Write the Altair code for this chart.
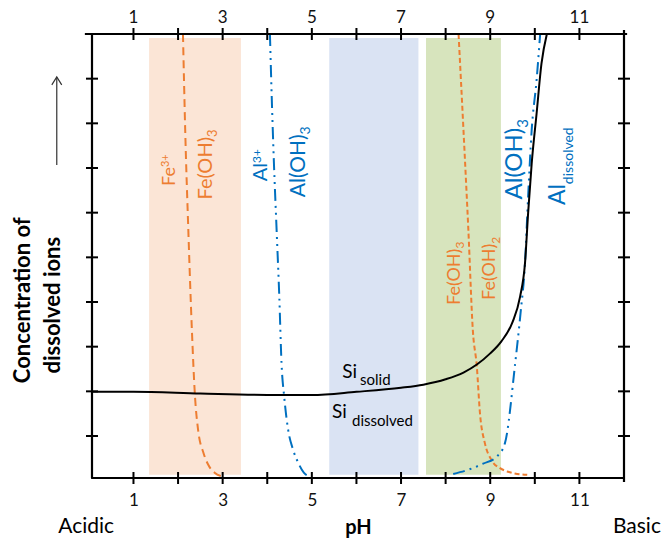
import altair as alt
import pandas as pd

# ---------------- data ----------------
x_tick_values = [1, 2, 3, 4, 5, 6, 7, 8, 9, 10, 11]
x_label_values = [1, 3, 5, 7, 9, 11]
y_tick_values = [1, 2, 3, 4, 5, 6, 7, 8, 9]

band_names = ["Fe", "Si", "Al"]
band_start = [1.35, 5.39, 7.56]
band_end = [3.41, 7.39, 9.24]
band_bottom = [0.13, 0.13, 0.13]
band_top = [9.91, 9.91, 9.91]
band_colors = ["#FBE5D6", "#DAE3F3", "#D7E4BD"]

fe_acid_x = [2.11, 2.16, 2.23, 2.31, 2.38, 2.45, 2.57, 2.68, 2.82, 2.97]
fe_acid_y = [10.0, 7.85, 5.61, 3.37, 1.88, 1.13, 0.62, 0.35, 0.18, 0.10]

al_acid_x = [4.06, 4.10, 4.15, 4.21, 4.27, 4.32, 4.38, 4.47, 4.58, 4.70, 4.82, 4.95]
al_acid_y = [10.0, 8.60, 7.10, 5.61, 4.12, 2.63, 1.88, 1.13, 0.69, 0.39, 0.18, 0.10]

fe_base_x = [8.29, 8.40, 8.51, 8.61, 8.70, 8.77, 8.88, 9.03, 9.22, 9.40, 9.55, 9.83]
fe_base_y = [10.0, 7.85, 5.61, 3.37, 2.55, 1.51, 0.84, 0.46, 0.28, 0.20, 0.16, 0.13]

al_base_x = [8.17, 8.55, 8.84, 9.15, 9.33, 9.56, 9.68, 9.78, 9.85, 9.93, 10.04, 10.12]
al_base_y = [0.15, 0.26, 0.38, 0.54, 0.84, 2.63, 3.75, 4.87, 6.36, 7.85, 8.97, 10.0]

si_x = [0.07, 1.0, 2.5, 4.0, 5.0, 6.0, 7.0, 7.5, 8.0, 8.4, 8.7, 9.0, 9.25,
        9.5, 9.67, 9.78, 9.85, 9.93, 10.04, 10.15, 10.27]
si_y = [1.99, 1.99, 1.95, 1.92, 1.92, 1.99, 2.08, 2.15, 2.27, 2.42, 2.60, 2.85, 3.12,
        3.55, 4.12, 4.87, 5.99, 7.10, 8.22, 9.34, 10.0]

# rotated annotation labels: main text + sub/superscript
ann_main = ["Fe", "Fe(OH)", "Al", "Al(OH)", "Fe(OH)", "Fe(OH)", "Al(OH)", "Al"]
ann_script = ["3+", "3", "3+", "3", "3", "2", "3", "dissolved"]
ann_color = ["#ED7D31", "#ED7D31", "#0070C0", "#0070C0", "#ED7D31", "#ED7D31", "#0070C0", "#0070C0"]
ann_x = [1.931, 2.76, 3.995, 4.847, 8.323, 9.108, 9.713, 10.678]      # main baseline
ann_y = [7.022, 7.694, 7.112, 7.752, 5.196, 5.307, 7.902, 6.639]      # end of main text
ann_sx = [1.774, 2.85, 3.83, 4.937, 8.40, 9.20, 9.825, 10.835]       # script baseline
ann_size = [18, 20, 20, 21, 18, 18, 24, 23]
ann_ssize = [11, 13, 12, 14, 12, 12, 15, 14]

# horizontal Si labels (left aligned)
si_text = ["Si", "solid", "Si", "dissolved"]
si_lx = [5.68, 6.08, 5.45, 5.90]
si_ly = [2.43, 2.25, 1.54, 1.34]
si_size = [19, 15, 19, 15]

FONT = "Lato"
BLACK = "#000000"

# ---------------- scales ----------------
xscale = alt.Scale(domain=[0.07, 12], nice=False, zero=False)
yscale = alt.Scale(domain=[0.06, 10], nice=False, zero=False)
xaxis = alt.Axis(values=x_label_values, format="d", ticks=False, domain=False, grid=False,
                 labelFont=FONT, labelFontSize=17, labelColor="#111111", labelPadding=14,
                 title="pH", titleFont=FONT, titleFontSize=20, titleFontWeight="bold",
                 titleColor="#000000", titleBaseline="alphabetic", titleY=55)


def X(f="x"):
    return alt.X(f"{f}:Q", scale=xscale, axis=xaxis)


def Y(f="y"):
    return alt.Y(f"{f}:Q", scale=yscale, axis=None)


# ---------------- layers ----------------
bands = pd.DataFrame({"name": band_names, "x": band_start, "x2": band_end,
                      "y": band_bottom, "y2": band_top})
band_layer = alt.Chart(bands).mark_rect().encode(
    x=X(), x2="x2:Q", y=Y(), y2="y2:Q",
    color=alt.Color("name:N", scale=alt.Scale(domain=band_names, range=band_colors), legend=None),
)


def curve(xs, ys):
    return pd.DataFrame({"x": xs, "y": ys, "o": list(range(len(xs)))})


def line_layer(df, color, dash, width=2.0):
    kw = dict(color=color, strokeWidth=width, interpolate="monotone", clip=False)
    if dash:
        kw["strokeDash"] = dash
    return alt.Chart(df).mark_line(**kw).encode(x=X(), y=Y(), order="o:Q")


fe_acid = line_layer(curve(fe_acid_x, fe_acid_y), "#ED7D31", [8, 5], 2.0)
al_acid = line_layer(curve(al_acid_x, al_acid_y), "#0070C0", [12, 5, 2, 5, 2, 5], 2.0)
fe_base = line_layer(curve(fe_base_x, fe_base_y), "#ED7D31", [5, 3], 2.0)
al_base = line_layer(curve(al_base_x, al_base_y), "#0070C0", [12, 5, 2, 5, 2, 5], 2.0)
si_line = line_layer(curve(si_x, si_y), BLACK, None, 2.0)

# frame lines
frame = pd.DataFrame({
    "x": [-0.09, 0.05, 0.07, 12.0],
    "x2": [12.07, 12.0, 0.07, 12.0],
    "y": [10.0, 0.06, 0.06, -0.03],
    "y2": [10.0, 0.06, 10.0, 10.09],
})
frame_layer = alt.Chart(frame).mark_rule(color=BLACK, strokeWidth=2.2).encode(
    x=X(), x2="x2:Q", y=Y(), y2="y2:Q")

# crossing ticks
half = 0.135
rows = []
for v in x_tick_values:
    rows.append({"x": v, "x2": v, "y": 0.06 - half, "y2": 0.06 + half})
    rows.append({"x": v, "x2": v, "y": 10 - half, "y2": 10 + half})
for v in y_tick_values:
    rows.append({"x": 0.07 - half, "x2": 0.07 + half, "y": v, "y2": v})
    rows.append({"x": 12 - half, "x2": 12 + half, "y": v, "y2": v})
tick_layer = alt.Chart(pd.DataFrame(rows)).mark_rule(color=BLACK, strokeWidth=2).encode(
    x=X(), x2="x2:Q", y=Y(), y2="y2:Q")

# top tick labels
top_df = pd.DataFrame({"x": x_label_values, "y": [10.36] * len(x_label_values),
                       "t": [str(v) for v in x_label_values]})
top_labels = alt.Chart(top_df).mark_text(font=FONT, fontSize=17, color="#111111",
                                         baseline="middle", align="center").encode(
    x=X(), y=Y(), text="t:N")

# rotated annotations (main part ends at anchor, script starts there)
ann_df = pd.DataFrame({"t": ann_main, "s": ann_script, "c": ann_color, "x": ann_x,
                       "y": ann_y, "sx": ann_sx, "fs": ann_size, "sfs": ann_ssize})
ann_main_layer = alt.Chart(ann_df).mark_text(font=FONT, angle=270, align="right",
                                             baseline="alphabetic").encode(
    x=X(), y=Y(), text="t:N", size=alt.Size("fs:Q", scale=None),
    color=alt.Color("c:N", scale=None))
ann_script_layer = alt.Chart(ann_df).mark_text(font=FONT, angle=270, align="left",
                                               baseline="alphabetic", dy=1).encode(
    x=X("sx"), y=Y(), text="s:N", size=alt.Size("sfs:Q", scale=None),
    color=alt.Color("c:N", scale=None))

# Si labels
si_df = pd.DataFrame({"t": si_text, "x": si_lx, "y": si_ly, "s": si_size})
si_layer = alt.Chart(si_df).mark_text(font=FONT, align="left", baseline="middle",
                                      color="#000000").encode(
    x=X(), y=Y(), text="t:N", size=alt.Size("s:Q", scale=None))

# side texts: Acidic / Basic
side_df = pd.DataFrame({"t": ["Acidic", "Basic"], "x": [-0.06, 12.29], "y": [-1.17, -1.17]})
side_layer = alt.Chart(side_df).mark_text(font=FONT, fontSize=21, align="center",
                                          baseline="alphabetic", color="#000000").encode(
    x=X(), y=Y(), text="t:N")

# y title (two lines, rotated)
ytitle_df = pd.DataFrame({"t": ["Concentration of", "dissolved ions"],
                          "x": [-1.48, -0.80], "y": [4.04, 3.93]})
ytitle_layer = alt.Chart(ytitle_df).mark_text(font=FONT, fontSize=22, fontWeight="bold",
                                              angle=270, align="center", baseline="middle",
                                              color="#000000").encode(
    x=X(), y=Y(), text="t:N")

# arrow
arrow_df = pd.DataFrame({"x": [-0.72], "y": [7.07], "y2": [9.04]})
arrow_shaft = alt.Chart(arrow_df).mark_rule(color="#333333", strokeWidth=1.2).encode(
    x=X(), y=Y(), y2="y2:Q")
arrow_head = alt.Chart(arrow_df).mark_point(shape="M -0.62 1 L 0 0 L 0.62 1", filled=False,
                                            size=256, strokeWidth=1.2, color="#333333",
                                            opacity=1).encode(
    x=X(), y=Y("y2"))

chart = alt.layer(
    band_layer, fe_acid, al_acid, fe_base, al_base, si_line,
    frame_layer, tick_layer, top_labels, ann_main_layer, ann_script_layer, si_layer,
    side_layer, ytitle_layer, arrow_shaft, arrow_head,
).properties(
    width=532, height=444,
    autosize=alt.AutoSizeParams(type="none"),
    padding={"left": 92, "top": 34, "right": 41, "bottom": 62},
    background="white",
).configure_view(stroke=None)

chart.save("out.html", embed_options={"renderer": "svg", "actions": False})
